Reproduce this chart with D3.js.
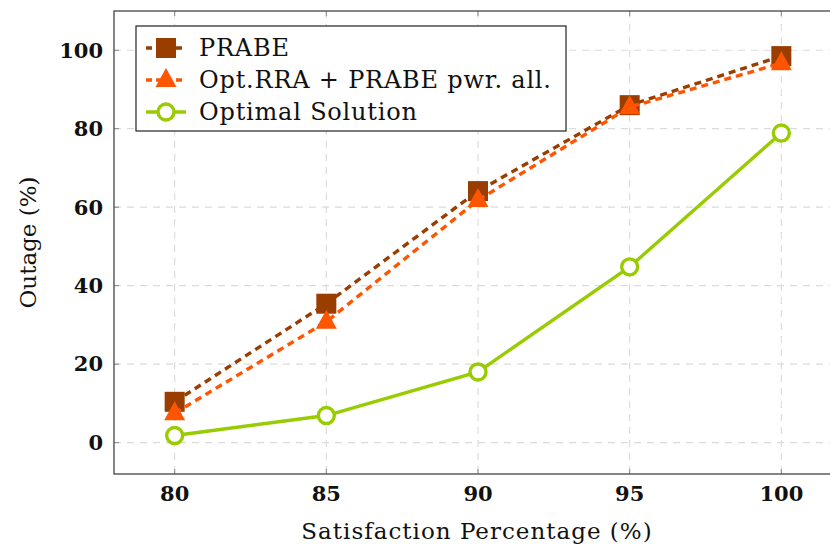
<!DOCTYPE html>
<html>
<head>
<meta charset="utf-8">
<script src="https://cdn.jsdelivr.net/npm/d3@7"></script>
<style>
    body { margin: 0; background: #fff; }
    svg { display: block; }
    .tick-label { font-family: 'DejaVu Serif', serif; font-weight: bold; font-size: 21px; fill: #111; }
    .axis-title { font-family: 'DejaVu Serif', serif; font-size: 23px; fill: #111; }
    .legend-text { font-family: 'DejaVu Serif', serif; font-size: 24px; letter-spacing: 0.8px; fill: #111; }
</style>
</head>
<body>
<svg id="chart" width="830" height="549"></svg>
<script>
const satisfaction = [80, 85, 90, 95, 100];
const prabe = [10.4, 35.4, 64.1, 86.0, 98.5];
const optRra = [7.5, 30.8, 61.8, 85.5, 96.7];
const optimal = [1.8, 6.9, 18.0, 44.8, 78.9];
const xTicks = [80, 85, 90, 95, 100];
const yTicks = [0, 20, 40, 60, 80, 100];

const series = [
    { name: 'PRABE', values: prabe, color: '#993d00', dash: '7,5', marker: 'square' },
    { name: 'Opt.RRA + PRABE pwr. all.', values: optRra, color: '#ff5500', dash: '7,5', marker: 'triangle' },
    { name: 'Optimal Solution', values: optimal, color: '#99cc00', dash: null, marker: 'circle' }
];

const svg = d3.select('#chart');
const box = { left: 114, right: 842, top: 11, bottom: 474 };

const x = d3.scaleLinear().domain([78, 102]).range([box.left, box.right]);
const y = d3.scaleLinear().domain([-8, 110]).range([box.bottom, box.top]);

// grid
const grid = svg.append('g');
grid.selectAll('line.v')
    .data(xTicks)
    .enter()
    .append('line')
    .attr('x1', d => x(d)).attr('x2', d => x(d))
    .attr('y1', box.top).attr('y2', box.bottom)
    .attr('stroke', '#dcdcdc').attr('stroke-width', 1.2)
    .attr('stroke-dasharray', '7,6');
grid.selectAll('line.h')
    .data(yTicks)
    .enter()
    .append('line')
    .attr('y1', d => y(d)).attr('y2', d => y(d))
    .attr('x1', box.left).attr('x2', box.right)
    .attr('stroke', '#dcdcdc').attr('stroke-width', 1.2)
    .attr('stroke-dasharray', '7,6');

// small tick marks inside the frame
const tickLen = 5;
xTicks.forEach(t => {
    svg.append('line').attr('x1', x(t)).attr('x2', x(t)).attr('y1', box.bottom).attr('y2', box.bottom - tickLen).attr('stroke', '#888').attr('stroke-width', 1);
    svg.append('line').attr('x1', x(t)).attr('x2', x(t)).attr('y1', box.top).attr('y2', box.top + tickLen).attr('stroke', '#888').attr('stroke-width', 1);
});
yTicks.forEach(t => {
    svg.append('line').attr('y1', y(t)).attr('y2', y(t)).attr('x1', box.left).attr('x2', box.left + tickLen).attr('stroke', '#888').attr('stroke-width', 1);
});

// frame
svg.append('rect')
    .attr('x', box.left).attr('y', box.top)
    .attr('width', box.right - box.left).attr('height', box.bottom - box.top)
    .attr('fill', 'none').attr('stroke', '#444').attr('stroke-width', 1.3);

// tick labels
svg.selectAll('text.xt')
    .data(xTicks)
    .enter()
    .append('text')
    .attr('class', 'tick-label')
    .attr('x', d => x(d)).attr('y', 501)
    .attr('text-anchor', 'middle')
    .text(d => d);
svg.selectAll('text.yt')
    .data(yTicks)
    .enter()
    .append('text')
    .attr('class', 'tick-label')
    .attr('x', 103).attr('y', d => y(d))
    .attr('dy', '0.35em')
    .attr('text-anchor', 'end')
    .text(d => d);

// axis titles
svg.append('text')
    .attr('class', 'axis-title')
    .attr('x', 477).attr('y', 539)
    .attr('text-anchor', 'middle')
    .attr('letter-spacing', '1px')
    .text('Satisfaction Percentage (%)');
svg.append('text')
    .attr('class', 'axis-title')
    .attr('transform', `translate(36, ${y(51)}) rotate(-90)`)
    .attr('text-anchor', 'middle')
    .text('Outage (%)');

const line = d3.line()
    .x((d, i) => x(satisfaction[i]))
    .y(d => y(d));

function drawMarker(g, type, cx, cy, color) {
    if (type === 'square') {
        g.append('rect')
            .attr('x', cx - 10).attr('y', cy - 10)
            .attr('width', 20).attr('height', 20)
            .attr('fill', color);
    } else if (type === 'triangle') {
        g.append('path')
            .attr('d', `M${cx},${cy - 12} L${cx + 10.5},${cy + 7} L${cx - 10.5},${cy + 7} Z`)
            .attr('fill', color);
    } else {
        g.append('circle')
            .attr('cx', cx).attr('cy', cy).attr('r', 8)
            .attr('fill', '#fff')
            .attr('stroke', color).attr('stroke-width', 3.4);
    }
}

series.forEach(s => {
    const g = svg.append('g');
    g.append('path')
        .datum(s.values)
        .attr('d', line)
        .attr('fill', 'none')
        .attr('stroke', s.color)
        .attr('stroke-width', 3.4)
        .attr('stroke-dasharray', s.dash);
    s.values.forEach((v, i) => drawMarker(g, s.marker, x(satisfaction[i]), y(v), s.color));
});

// legend
const legend = svg.append('g');
legend.append('rect')
    .attr('x', 136).attr('y', 26)
    .attr('width', 430).attr('height', 105)
    .attr('fill', '#fff').attr('stroke', '#222').attr('stroke-width', 1.2);

series.forEach((s, i) => {
    const ly = 48 + i * 32;
    legend.append('line')
        .attr('x1', 146).attr('x2', 186)
        .attr('y1', ly).attr('y2', ly)
        .attr('stroke', s.color).attr('stroke-width', 3.4)
        .attr('stroke-dasharray', s.dash ? '6,4' : null);
    drawMarker(legend, s.marker, 166, ly, s.color);
    legend.append('text')
        .attr('class', 'legend-text')
        .attr('x', 199).attr('y', ly)
        .attr('dy', '0.35em')
        .text(s.name);
});
</script>
</body>
</html>
